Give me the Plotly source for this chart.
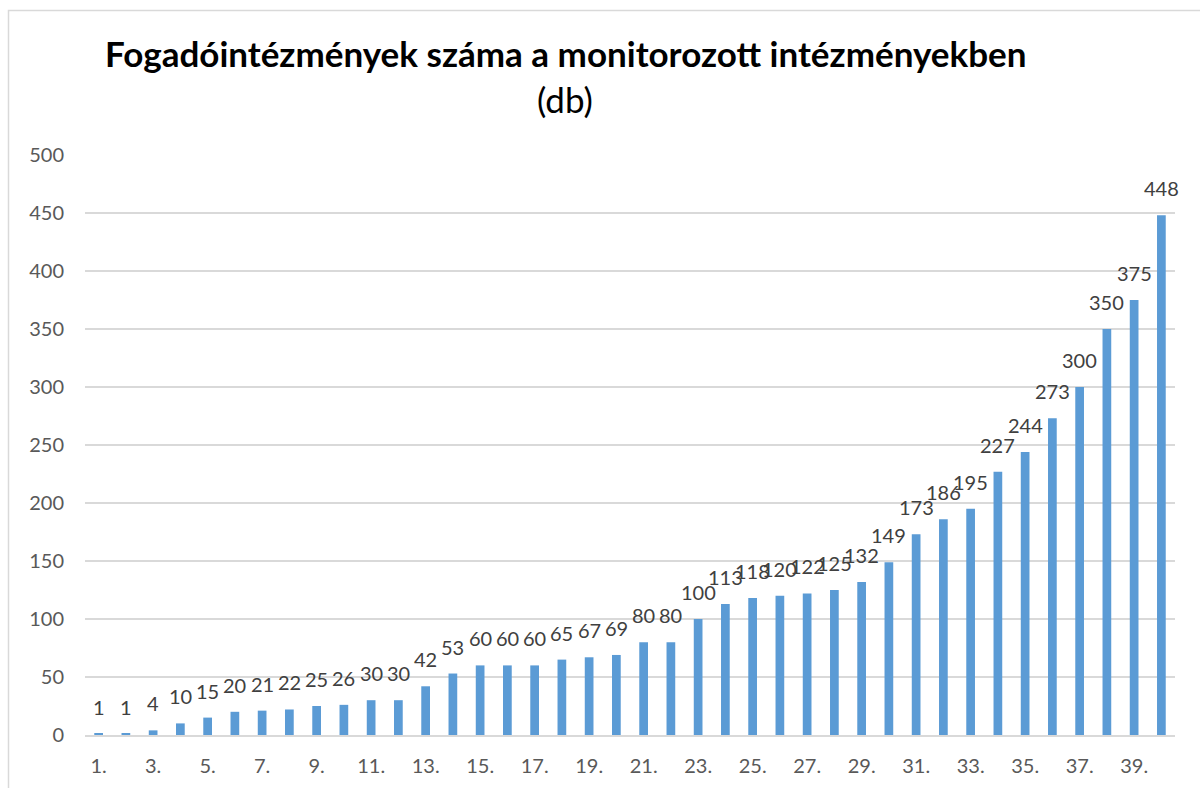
import plotly.graph_objects as go

categories = [f"{i}." for i in range(1, 41)]
values = [1, 1, 4, 10, 15, 20, 21, 22, 25, 26, 30, 30, 42, 53, 60, 60, 60, 65, 67, 69,
          80, 80, 100, 113, 118, 120, 122, 125, 132, 149, 173, 186, 195, 227, 244, 273,
          300, 350, 375, 448]
tick_labels = categories[::2]
y_ticks = [0, 50, 100, 150, 200, 250, 300, 350, 400, 450, 500]

FONT = "Lato, 'Open Sans', sans-serif"

fig = go.Figure(go.Bar(
    x=categories, y=values,
    marker=dict(color="#5B9BD5", line=dict(width=0)),
    hoverinfo="x+y",
))

W, H = 1200, 788
ml, mr, mt, mb = 85, 25, 155, 53
pw, ph = W - ml - mr, H - mt - mb

def px2x(p):
    return (p - ml) / pw

def px2y(p):
    return 1 - (p - mt) / ph

# category axis: annotation x given as the category index
label_annotations = [
    dict(x=i, y=v, text=str(v), xref="x", yref="y", showarrow=False,
         xanchor="center", yanchor="bottom", yshift=13,
         font=dict(size=20, color="#404040", family=FONT))
    for i, v in enumerate(values)
]

fig.update_layout(
    width=W, height=H,
    margin=dict(l=ml, r=mr, t=mt, b=mb),
    paper_bgcolor="white", plot_bgcolor="white",
    bargap=0.68, showlegend=False,
    font=dict(family=FONT, color="#595959"),
    xaxis=dict(type="category", categoryorder="array", categoryarray=categories,
               range=[-0.5, len(categories) - 0.5],
               tickvals=tick_labels, ticktext=tick_labels,
               tickfont=dict(size=20, color="#595959"), showgrid=False,
               showline=True, linecolor="#d9d9d9", linewidth=2, ticks="",
               ticklabelstandoff=12),
    yaxis=dict(range=[0, 500], tickvals=y_ticks, tickfont=dict(size=20, color="#595959"),
               showgrid=True, gridcolor="#d9d9d9", gridwidth=1.5, zeroline=False,
               showline=False, ticks="", ticklabelstandoff=20),
    annotations=label_annotations + [
        dict(text="<b>Fogadóintézmények száma a monitorozott intézményekben</b>",
             x=px2x(565), y=px2y(53), xref="paper", yref="paper",
             xanchor="center", yanchor="middle", showarrow=False,
             font=dict(size=35, color="#000000", family=FONT)),
        dict(text="(db)",
             x=px2x(565), y=px2y(99), xref="paper", yref="paper",
             xanchor="center", yanchor="middle", showarrow=False,
             font=dict(size=35, color="#000000", family=FONT)),
    ],
    shapes=[dict(type="rect", xref="paper", yref="paper",
                 x0=px2x(8.5), x1=px2x(1230), y0=px2y(820), y1=px2y(10.5),
                 line=dict(color="#d9d9d9", width=1.5), layer="below")],
)

fig.write_html("out.html", config={"displayModeBar": False},
               post_script="document.body.style.margin='0';")
